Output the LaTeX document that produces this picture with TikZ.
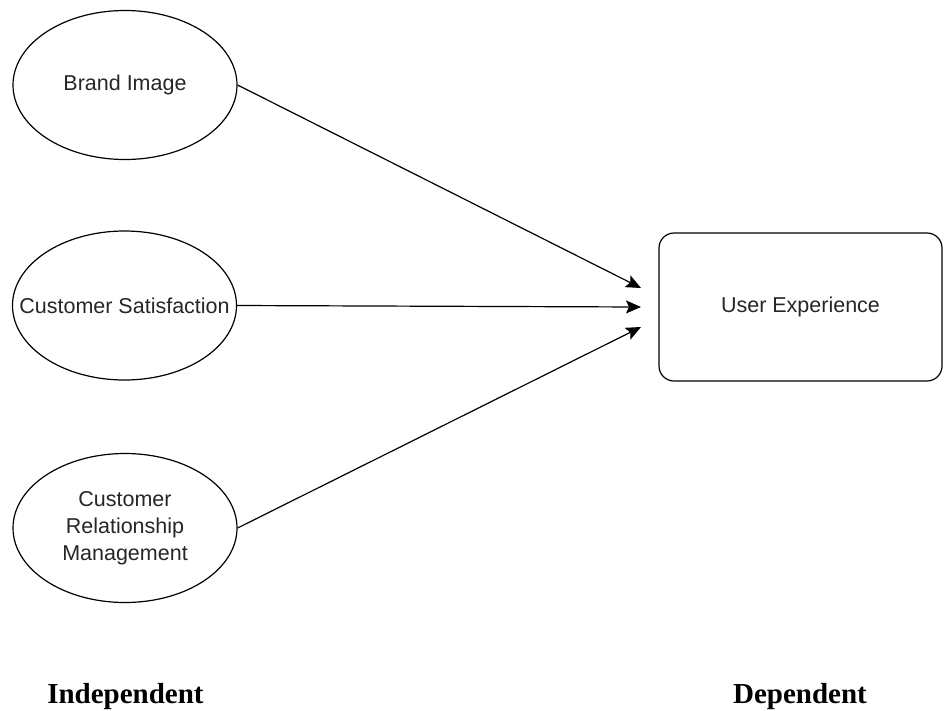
\documentclass[tikz,border=0pt]{standalone}
\usepackage{fontspec}
\setmainfont{Liberation Serif}
\newfontfamily\arialf{Liberation Sans}
\usetikzlibrary{arrows.meta,shapes.geometric}
\begin{document}
\begin{tikzpicture}[x=1pt,y=-1pt,
  oval/.style={draw, line width=1.2pt, ellipse, minimum width=224pt, minimum height=149pt, inner sep=0pt,
    font=\arialf\fontsize{21.5}{27}\selectfont, align=center, text=black!85},
  dvbox/.style={draw, line width=1.2pt, rounded corners=15pt, minimum width=283pt, minimum height=148pt,
    font=\arialf\fontsize{21.5}{27}\selectfont, text=black!85},
  conn/.style={line width=1.2pt, -{Stealth[length=15pt,width=13pt,inset=3pt]}},
  lbl/.style={font=\fontsize{29}{34}\selectfont\bfseries, anchor=base}]
\useasboundingbox (0,0) rectangle (944,710);
\node[oval] (e1) at (125,85) {Brand Image};
\node[oval] (e2) at (124.5,305.5) {\makebox[0pt]{Customer Satisfaction}};
\node[oval] (e3) at (125,528) {Customer\\Relationship\\Management};
\node[dvbox] (ux) at (800.5,307) {User Experience};
\coordinate (t1) at (641,288);
\coordinate (t2) at (641,307);
\coordinate (t3) at (641,327);
\draw[conn] (e1.east) -- (t1);
\draw[conn] (e2.east) -- (t2);
\draw[conn] (e3.east) -- (t3);
\node[lbl] (ind) at (125.5,703) {Independent};
\node[lbl] (dep) at (800,703) {Dependent};
\end{tikzpicture}
\end{document}
